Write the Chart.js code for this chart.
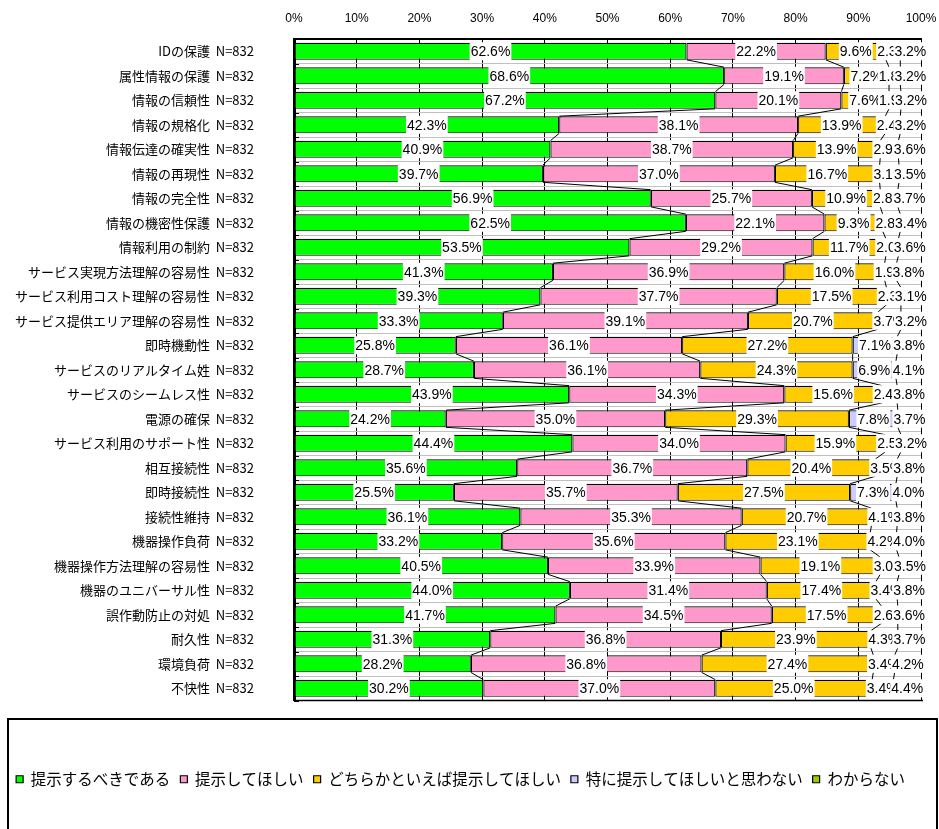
<!DOCTYPE html>
<html lang="ja">
<head>
<meta charset="utf-8">
<script src="https://cdn.jsdelivr.net/npm/chart.js@4.4.1/dist/chart.umd.min.js"></script>
<style>
  html, body { margin: 0; padding: 0; background: #fff; }
</style>
</head>
<body>
<canvas id="chart" width="939" height="829"></canvas>
<script>
// 項目名（N=832）
const categories = [
  'IDの保護', '属性情報の保護', '情報の信頼性', '情報の規格化', '情報伝達の確実性',
  '情報の再現性', '情報の完全性', '情報の機密性保護', '情報利用の制約',
  'サービス実現方法理解の容易性', 'サービス利用コスト理解の容易性', 'サービス提供エリア理解の容易性',
  '即時機動性', 'サービスのリアルタイム姓', 'サービスのシームレス性', '電源の確保',
  'サービス利用のサポート性', '相互接続性', '即時接続性', '接続性維持', '機器操作負荷',
  '機器操作方法理解の容易性', '機器のユニバーサル性', '誤作動防止の対処', '耐久性', '環境負荷', '不快性'
];
const sampleSize = 'N=832';

const seriesNames = ['提示するべきである', '提示してほしい', 'どちらかといえば提示してほしい', '特に提示してほしいと思わない', 'わからない'];
const seriesColors = ['#00FF00', '#FF99CC', '#FFCC00', '#CCCCFF', '#99CC00'];

// 回答割合（%）
const shouldShow = [62.6, 68.6, 67.2, 42.3, 40.9, 39.7, 56.9, 62.5, 53.5, 41.3, 39.3, 33.3, 25.8, 28.7, 43.9, 24.2, 44.4, 35.6, 25.5, 36.1, 33.2, 40.5, 44.0, 41.7, 31.3, 28.2, 30.2];
const wantShown  = [22.2, 19.1, 20.1, 38.1, 38.7, 37.0, 25.7, 22.1, 29.2, 36.9, 37.7, 39.1, 36.1, 36.1, 34.3, 35.0, 34.0, 36.7, 35.7, 35.3, 35.6, 33.9, 31.4, 34.5, 36.8, 36.8, 37.0];
const ratherWant = [9.6, 7.2, 7.6, 13.9, 13.9, 16.7, 10.9, 9.3, 11.7, 16.0, 17.5, 20.7, 27.2, 24.3, 15.6, 29.3, 15.9, 20.4, 27.5, 20.7, 23.1, 19.1, 17.4, 17.5, 23.9, 27.4, 25.0];
const notNeeded  = [2.3, 1.8, 1.9, 2.4, 2.9, 3.1, 2.8, 2.8, 2.0, 1.9, 2.3, 3.7, 7.1, 6.9, 2.4, 7.8, 2.5, 3.5, 7.3, 4.1, 4.2, 3.0, 3.4, 2.6, 4.3, 3.4, 3.4];
const unknown    = [3.2, 3.2, 3.2, 3.2, 3.6, 3.5, 3.7, 3.4, 3.6, 3.8, 3.1, 3.2, 3.8, 4.1, 3.8, 3.7, 3.2, 3.8, 4.0, 3.8, 4.0, 3.5, 3.8, 3.6, 3.7, 4.2, 4.4];

const xTicks = [0, 10, 20, 30, 40, 50, 60, 70, 80, 90, 100];

const seriesValues = [shouldShow, wantShown, ratherWant, notNeeded, unknown];

const LABEL_FONT = '14px "Liberation Sans", Arial, sans-serif';

// 区分線・軸まわりとデータラベル
const overlay = {
  id: 'overlay',
  afterDatasetsDraw(chart) {
    const ctx = chart.ctx;
    const area = chart.chartArea;
    const yScale = chart.scales.y;
    ctx.save();

    // 区分線（隣り合う棒の境目をつなぐ）
    ctx.strokeStyle = '#000';
    ctx.lineWidth = 1;
    for (let d = 0; d < seriesValues.length - 1; d++) {
      const bars = chart.getDatasetMeta(d).data;
      ctx.beginPath();
      for (let i = 0; i < bars.length - 1; i++) {
        const a = bars[i].getProps(['x', 'y', 'height'], true);
        const b = bars[i + 1].getProps(['x', 'y', 'height'], true);
        ctx.moveTo(a.x, a.y + a.height / 2);
        ctx.lineTo(b.x, b.y - b.height / 2);
      }
      ctx.stroke();
    }

    // 左軸の内向き目盛
    ctx.lineWidth = 1;
    for (let i = 0; i <= categories.length; i++) {
      const y = Math.round(yScale.getPixelForValue(i - 0.5)) + 0.5;
      ctx.beginPath();
      ctx.moveTo(area.left, y);
      ctx.lineTo(area.left + 5, y);
      ctx.stroke();
    }

    // 下端の線
    ctx.lineWidth = 1.5;
    ctx.beginPath();
    ctx.moveTo(area.left, area.bottom);
    ctx.lineTo(area.right + 2, area.bottom);
    ctx.stroke();

    // データラベル（白地）
    ctx.font = LABEL_FONT;
    ctx.textAlign = 'center';
    ctx.textBaseline = 'middle';
    seriesValues.forEach((vals, d) => {
      const bars = chart.getDatasetMeta(d).data;
      bars.forEach((bar, i) => {
        const p = bar.getProps(['x', 'base', 'y'], true);
        const text = vals[i].toFixed(1) + '%';
        const w = ctx.measureText(text).width;
        const cx = (p.x + p.base) / 2;
        ctx.fillStyle = '#fff';
        ctx.fillRect(cx - w / 2 - 1, p.y - 9, w + 2, 18);
        ctx.fillStyle = '#000';
        ctx.fillText(text, cx, p.y + 1);
      });
    });
    ctx.restore();
  },
  afterDraw(chart) {
    // 凡例の枠
    const ctx = chart.ctx;
    ctx.save();
    ctx.strokeStyle = '#000';
    ctx.lineWidth = 2;
    ctx.strokeRect(8, 719, 929, 130);
    ctx.restore();
  }
};

new Chart(document.getElementById('chart'), {
  type: 'bar',
  data: {
    labels: categories.map(c => c + '  ' + sampleSize),
    datasets: seriesValues.map((vals, d) => ({
      label: seriesNames[d],
      data: vals,
      backgroundColor: seriesColors[d],
      borderColor: '#000',
      borderWidth: 1.2,
      borderSkipped: false,
      barPercentage: 0.7,
      categoryPercentage: 1
    }))
  },
  options: {
    indexAxis: 'y',
    responsive: false,
    animation: false,
    devicePixelRatio: 1,
    layout: { padding: { left: 0, right: 18, top: 0, bottom: 32 } },
    scales: {
      x: {
        position: 'top',
        stacked: true,
        min: 0,
        max: 100,
        afterBuildTicks: scale => { scale.ticks = xTicks.map(v => ({ value: v })); },
        afterFit: scale => {
          scale.height = 39;
          scale.paddingLeft = 0;
          scale.paddingRight = 0;
        },
        ticks: {
          callback: v => v + '%',
          color: '#000',
          padding: 13,
          font: { family: '"Liberation Sans", Arial, sans-serif', size: 12 }
        },
        grid: { color: '#000', lineWidth: 1, drawTicks: false },
        border: { display: true, color: '#000', width: 2 }
      },
      y: {
        stacked: true,
        afterFit: scale => {
          scale.width = 294;
          scale.paddingTop = 0;
          scale.paddingBottom = 0;
        },
        ticks: {
          color: '#000',
          padding: 40,
          autoSkip: false,
          font: { family: '"Noto Sans CJK JP", sans-serif', size: 13 }
        },
        grid: { offset: true, color: '#c0c0c0', lineWidth: 1, drawTicks: false },
        border: { display: true, color: '#000', width: 3 }
      }
    },
    plugins: {
      tooltip: { enabled: false },
      legend: {
        position: 'bottom',
        title: { display: true, text: '', padding: { top: 0, bottom: 49 }, font: { size: 10 } },
        labels: {
          color: '#000',
          boxWidth: 7,
          boxHeight: 7,
          padding: 10,
          font: { family: '"Noto Sans CJK JP", sans-serif', size: 15.5 }
        }
      }
    }
  },
  plugins: [overlay]
});
</script>
</body>
</html>
